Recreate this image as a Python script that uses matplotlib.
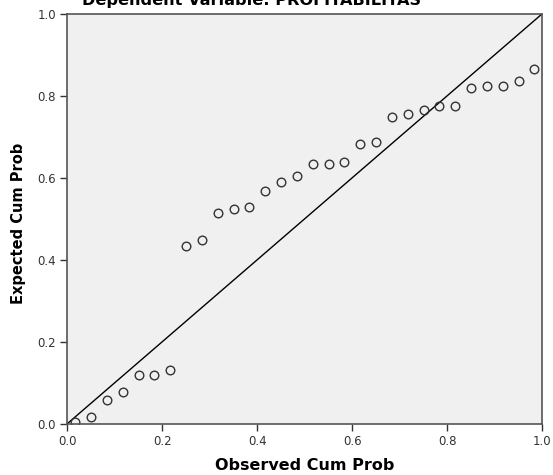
import matplotlib
matplotlib.use("Agg")
import matplotlib.pyplot as plt

plt.rcParams["font.family"] = ["DejaVu Sans"]

# Observed cumulative probabilities (30 cases)
observed = [0.017, 0.050, 0.083, 0.117, 0.150, 0.183, 0.217, 0.250, 0.283, 0.317,
            0.350, 0.383, 0.417, 0.450, 0.483, 0.517, 0.550, 0.583, 0.617, 0.650,
            0.683, 0.717, 0.750, 0.783, 0.817, 0.850, 0.883, 0.917, 0.950, 0.983]
# Expected cumulative probabilities
expected = [0.005, 0.016, 0.058, 0.077, 0.120, 0.120, 0.130, 0.433, 0.447, 0.515,
            0.524, 0.529, 0.567, 0.590, 0.604, 0.633, 0.633, 0.639, 0.682, 0.687,
            0.748, 0.755, 0.765, 0.775, 0.775, 0.818, 0.824, 0.824, 0.836, 0.865]
ticks = [0.0, 0.2, 0.4, 0.6, 0.8, 1.0]
tick_labels = ["0.0", "0.2", "0.4", "0.6", "0.8", "1.0"]

fig = plt.figure(figsize=(5.53, 4.75), dpi=100)
ax = fig.add_axes([67.3 / 553, 51.3 / 475, 475 / 553, 410 / 475])
ax.set_facecolor("#f0f0f0")

# reference line
ax.plot([0, 1], [0, 1], color="black", linewidth=1.0)

# points
ax.plot(observed, expected, linestyle="none", marker="o", markersize=6.2,
        markerfacecolor="none", markeredgecolor="#333333", markeredgewidth=1.0)

ax.set_xlim(0, 1)
ax.set_ylim(0, 1)
ax.set_xticks(ticks)
ax.set_xticklabels(tick_labels)
ax.set_yticks(ticks)
ax.set_yticklabels(tick_labels)
ax.tick_params(direction="out", length=5, width=1, colors="#333333",
               labelsize=8.5, pad=3)
for s in ax.spines.values():
    s.set_color("#555555")
    s.set_linewidth(1.2)

fig.text(305 / 553, 1 - 466 / 475, "Observed Cum Prob", ha="center", va="center",
         fontsize=11.5, fontweight="bold")
fig.text(19 / 553, 1 - 223 / 475, "Expected Cum Prob", ha="center", va="center",
         rotation=90, fontsize=10.5, fontweight="bold")

# title is partly cut off at the top in the original
fig.text(251 / 553, 1 - 5 / 475, "Dependent Variable: PROFITABILITAS",
         ha="center", va="baseline", fontsize=11.6, fontweight="bold")

fig.savefig("out.png", dpi=100)
